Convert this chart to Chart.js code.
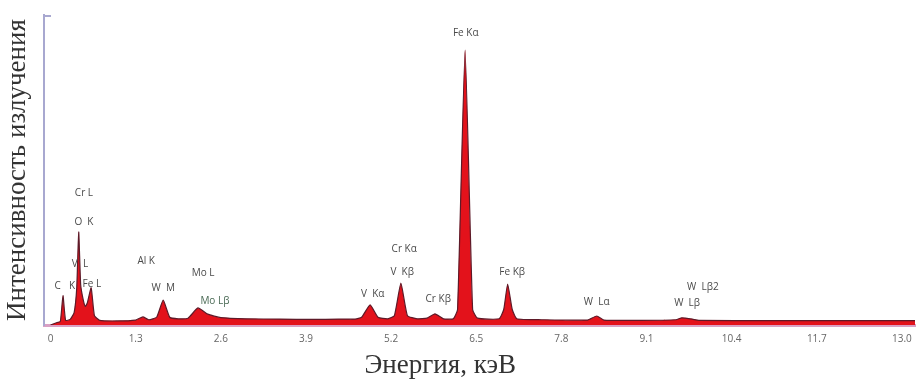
<!DOCTYPE html>
<html><head><meta charset="utf-8">
<script src="https://cdn.jsdelivr.net/npm/chart.js@4.4.1/dist/chart.umd.min.js"></script>
<style>html,body{margin:0;padding:0;background:#fff;}#wrap{width:920px;height:379px;}</style>
</head><body><div id="wrap"><canvas id="c" width="920" height="379"></canvas></div>
<script>
// Spectrum sample points (energy, keV) and intensity (arbitrary units, 0-100)
const energies = [0.00,0.10,0.15,0.19,0.23,0.30,0.36,0.40,0.43,0.46,0.50,0.53,0.56,0.62,0.67,0.75,1.00,1.30,1.41,1.50,1.62,1.72,1.82,1.95,2.10,2.25,2.40,2.60,3.00,3.50,4.00,4.40,4.65,4.75,4.88,5.00,5.15,5.25,5.35,5.45,5.60,5.75,5.87,6.00,6.15,6.215,6.33,6.445,6.52,6.85,6.92,6.98,7.05,7.12,7.50,8.20,8.34,8.45,9.00,9.55,9.64,9.80,9.90,11.0,12.0,13.2];
const intensity = [0.0,0.8,1.2,9.5,1.5,1.8,4.0,12.0,30.0,13.0,8.0,6.0,7.0,12.0,3.0,1.5,1.3,1.6,2.6,1.7,2.5,8.0,2.5,2.0,2.2,5.5,3.5,2.4,2.0,1.9,1.8,1.9,1.9,2.5,6.5,2.5,2.0,3.0,13.5,3.0,2.0,2.2,3.6,2.0,2.0,5.0,88.7,5.0,2.2,2.0,5.0,13.2,5.0,2.0,1.7,1.6,2.9,1.6,1.5,1.7,2.3,1.9,1.5,1.4,1.4,1.4];
const tickValues = [0,1.3,2.6,3.9,5.2,6.5,7.8,9.1,10.4,11.7,13.0];
const tickLabels = ["0","1.3","2.6","3.9","5.2","6.5","7.8","9.1","10.4","11.7","13.0"];
// Peak labels: text, energy (keV), intensity level of the label
const peakNames = ["Cr L","O  K","V  L","C","K","Fe L","Al K","W  M","Mo L","Mo L\u03b2","V  K\u03b1","Cr K\u03b1","V  K\u03b2","Cr K\u03b2","Fe K\u03b1","Fe K\u03b2","W  L\u03b1","W  L\u03b22","W  L\u03b2"];
const peakEnergies = [0.51,0.51,0.45,0.11,0.33,0.63,1.46,1.72,2.33,2.51,4.92,5.40,5.37,5.92,6.34,7.05,8.34,9.96,9.72];
const peakLevels = [42.6,33.2,19.7,12.6,12.6,13.2,20.6,11.9,16.8,7.7,10.0,24.5,17.1,8.4,94.2,17.1,7.4,12.3,7.1];
const xTitle = 'Энергия, кэВ';
const yTitle = 'Интенсивность излучения';

const points = energies.map((e,i)=>({x:e,y:intensity[i]}));

const labelPlugin = {
  id:'peakLabels',
  afterDatasetsDraw(chart){
    const {ctx, scales:{x,y}} = chart;
    ctx.save();
    ctx.font = '10px "Open Sans", sans-serif';
    ctx.textAlign='center'; ctx.textBaseline='middle';
    peakNames.forEach((t,i)=>{
      ctx.fillStyle = (t==="Mo L\u03b2") ? '#4a6a55' : '#4a4a4a';
      ctx.fillText(t, x.getPixelForValue(peakEnergies[i]), y.getPixelForValue(peakLevels[i]));
    });
    const a = chart.chartArea;
    // small cap at top of the y axis
    ctx.strokeStyle='#a8a8d0'; ctx.lineWidth=2;
    ctx.beginPath(); ctx.moveTo(a.left, a.top+1); ctx.lineTo(a.left+7, a.top+1); ctx.stroke();
    // x axis title (placed slightly left of centre, as in the original)
    ctx.fillStyle='#333';
    ctx.font='27px "Liberation Serif", serif';
    ctx.textBaseline='alphabetic';
    ctx.fillText(xTitle, a.left + (a.right-a.left)*0.455, 373);
    ctx.restore();
  }
};

new Chart(document.getElementById('c'),{
  type:'line',
  data:{datasets:[{
    data:points,
    fill:'origin',
    backgroundColor:'#e3121b',
    borderColor:'#5e1a28',
    borderWidth:1.2,
    pointRadius:0,
    tension:0.15
  }]},
  plugins:[labelPlugin],
  options:{
    responsive:false, animation:false,
    layout:{padding:{top:15,right:5,left:0,bottom:0}},
    plugins:{legend:{display:false},tooltip:{enabled:false}},
    scales:{
      x:{type:'linear',min:-0.1,max:13.2,
        afterBuildTicks:s=>{s.ticks=tickValues.map(v=>({value:v}));},
        afterFit:s=>{s.height=54;},
        grid:{display:false,drawTicks:false},
        border:{display:true,color:'#d9a0c4',width:3},
        ticks:{padding:8,color:'#666',font:{family:'"Open Sans", sans-serif',size:10},maxRotation:0,autoSkip:false,
          callback:(v,i)=>tickLabels[i]},
        title:{display:false}
      },
      y:{min:0,max:100,
        afterFit:s=>{s.width=44;},
        grid:{display:false,drawTicks:false},
        border:{display:true,color:'#a8a8d0',width:2},
        ticks:{display:false},
        title:{display:true,text:yTitle,color:'#333',font:{family:'"Liberation Serif", serif',size:27},padding:{top:2,bottom:2}}
      }
    }
  }
});
</script></body></html>
